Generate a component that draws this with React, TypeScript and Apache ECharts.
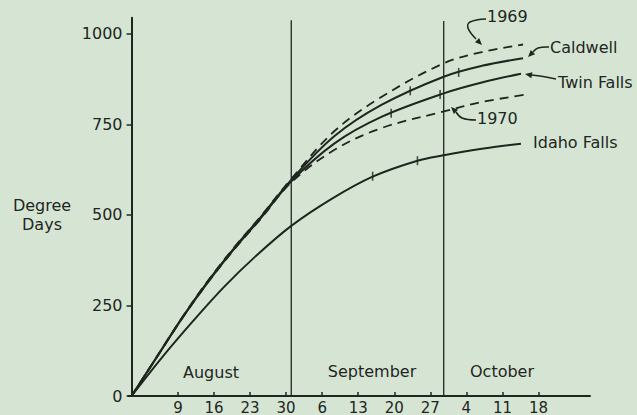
import React, { useEffect, useRef } from "react";
import * as echarts from "echarts";

// x = days counted from July 31 (Aug 9 = 9, Sep 6 = 37, Oct 4 = 65)
const tickDays = [9, 16, 23, 30, 37, 44, 51, 58, 65, 72, 79];
const yTicks = [0, 250, 500, 750, 1000];
const monthBreaks = [31, 60.6];
const monthBreakTops = [1038, 1036];

const caldwellDays = [0, 5, 10, 15, 20, 25, 31, 39.4, 48.5, 60.6, 68, 76];
const caldwellVals = [0, 110, 220, 320, 410, 493, 597, 718, 804, 882, 912, 933];
const twinDays = [0, 5, 10, 15, 20, 25, 31, 39.4, 48.5, 60.6, 68, 75.6];
const twinVals = [0, 110, 219, 318, 408, 490, 593, 698, 771, 836, 866, 890];
const y1969Days = [0, 5, 10, 15, 20, 25, 31, 39.4, 48.5, 60.6, 68, 76];
const y1969Vals = [0, 111, 221, 322, 412, 495, 600, 732, 826, 919, 950, 971];
const y1970Days = [0, 5, 10, 15, 20, 25, 31, 39.4, 48.5, 60.6, 68, 76.2];
const y1970Vals = [0, 109, 218, 317, 406, 488, 590, 680, 740, 786, 812, 832];
const idahoDays = [0, 6, 12, 18, 24, 31, 39, 46.8, 55.5, 60.6, 68, 75.6];
const idahoVals = [0, 108, 208, 302, 385, 470, 546, 606, 650, 665, 683, 697];

const caldwellMarkDays = [54.1, 63.5];
const caldwellMarkVals = [843, 894];
const twinMarkDays = [50.4, 59.9];
const twinMarkVals = [781, 833];
const idahoMarkDays = [46.8, 55.5];
const idahoMarkVals = [607, 650];

const pair = (xs: number[], ys: number[]) => xs.map((x, i) => [x, ys[i]]);

const INK = "#1e261f";
const BG = "#d6e5d3";
const FONT = "DejaVu Sans";

function arrowHead(tx: number, ty: number, angleDeg: number, len = 7, half = 3) {
  const a = (angleDeg * Math.PI) / 180;
  const bx = tx - len * Math.cos(a);
  const by = ty - len * Math.sin(a);
  const px = -Math.sin(a) * half;
  const py = Math.cos(a) * half;
  return {
    type: "polygon",
    shape: { points: [[tx, ty], [bx + px, by + py], [bx - px, by - py]] },
    style: { fill: INK },
    silent: true,
  };
}

function leader(points: number[][]) {
  return {
    type: "polyline",
    shape: { points, smooth: 0.4 },
    style: { stroke: INK, lineWidth: 1.6, fill: "none" },
    silent: true,
  };
}

function label(text: string, x: number, y: number, align = "left") {
  return {
    type: "text",
    x,
    y,
    style: {
      text,
      fill: INK,
      font: `16px "${FONT}"`,
      textAlign: align,
      textVerticalAlign: "middle",
    },
    silent: true,
  };
}

const dayLabel = (v: number) => {
  if (v <= 31) return String(v);
  if (v <= 61) return String(v - 31);
  return String(v - 61);
};

export default function App() {
  const ref = useRef<HTMLDivElement>(null);
  useEffect(() => {
    document.body.style.margin = "0";
    const chart = echarts.init(ref.current!, null, { renderer: "svg" });
    const lineBase = { type: "line", showSymbol: false, smooth: 0.35, silent: true };
    const markBase = {
      type: "scatter",
      symbol: "rect",
      symbolSize: [1.6, 9],
      itemStyle: { color: INK },
      silent: true,
    };
    chart.setOption({
      animation: false,
      backgroundColor: BG,
      grid: { left: 128.5, right: 47, top: 17.7, bottom: 18.5 },
      xAxis: {
        type: "value",
        min: -0.6,
        max: 89,
        splitLine: { show: false },
        axisLine: { lineStyle: { color: INK, width: 2 } },
        axisTick: { customValues: tickDays, inside: true, length: 4, lineStyle: { color: INK, width: 1.5 } },
        axisLabel: {
          customValues: tickDays,
          formatter: (v: number) => dayLabel(v),
          color: INK,
          fontFamily: FONT,
          fontSize: 15,
          margin: 4,
        },
      },
      yAxis: {
        type: "value",
        min: 0,
        max: 1045,
        splitLine: { show: false },
        axisLine: { show: true, lineStyle: { color: INK, width: 2 } },
        axisTick: { show: true, customValues: yTicks, length: 5, lineStyle: { color: INK, width: 1.5 } },
        axisLabel: {
          customValues: yTicks,
          formatter: (v: number) => String(v),
          color: INK,
          fontFamily: FONT,
          fontSize: 16,
          margin: 6,
        },
      },
      series: [
        ...monthBreaks.map((d, i) => ({
          type: "line",
          showSymbol: false,
          silent: true,
          data: [[d, 0], [d, monthBreakTops[i]]],
          lineStyle: { color: INK, width: 1.3 },
        })),
        { ...lineBase, name: "Caldwell", data: pair(caldwellDays, caldwellVals), lineStyle: { color: INK, width: 2 } },
        { ...lineBase, name: "Twin Falls", data: pair(twinDays, twinVals), lineStyle: { color: INK, width: 2 } },
        { ...lineBase, name: "1969", data: pair(y1969Days, y1969Vals), lineStyle: { color: INK, width: 1.8, type: [9, 6] } },
        { ...lineBase, name: "1970", data: pair(y1970Days, y1970Vals), lineStyle: { color: INK, width: 1.8, type: [9, 6] } },
        { ...lineBase, name: "Idaho Falls", data: pair(idahoDays, idahoVals), lineStyle: { color: INK, width: 2 } },
        { ...markBase, data: pair(caldwellMarkDays, caldwellMarkVals) },
        { ...markBase, data: pair(twinMarkDays, twinMarkVals) },
        { ...markBase, data: pair(idahoMarkDays, idahoMarkVals) },
      ],
      graphic: [
        label("Degree", 42, 205, "center"),
        label("Days", 42, 224, "center"),
        label("August", 211, 372, "center"),
        label("September", 372, 371, "center"),
        label("October", 502, 371, "center"),
        label("1969", 487, 16),
        label("Caldwell", 550, 47),
        label("Twin Falls", 558, 82),
        label("1970", 477, 118),
        label("Idaho Falls", 533, 142),
        leader([[486, 19], [470, 22], [468, 28], [476, 39]]),
        arrowHead(482, 45, 45),
        leader([[549, 47], [538, 48], [533, 52]]),
        arrowHead(528, 57, 135),
        leader([[556, 79], [540, 76], [531, 75]]),
        arrowHead(525, 74, 190),
        leader([[476, 120], [462, 118], [456, 112]]),
        arrowHead(451, 107, 225),
      ],
    });
    return () => chart.dispose();
  }, []);
  return (
    <div
      ref={ref}
      style={{ position: "fixed", left: 0, top: 0, width: 637, height: 415 }}
    />
  );
}
